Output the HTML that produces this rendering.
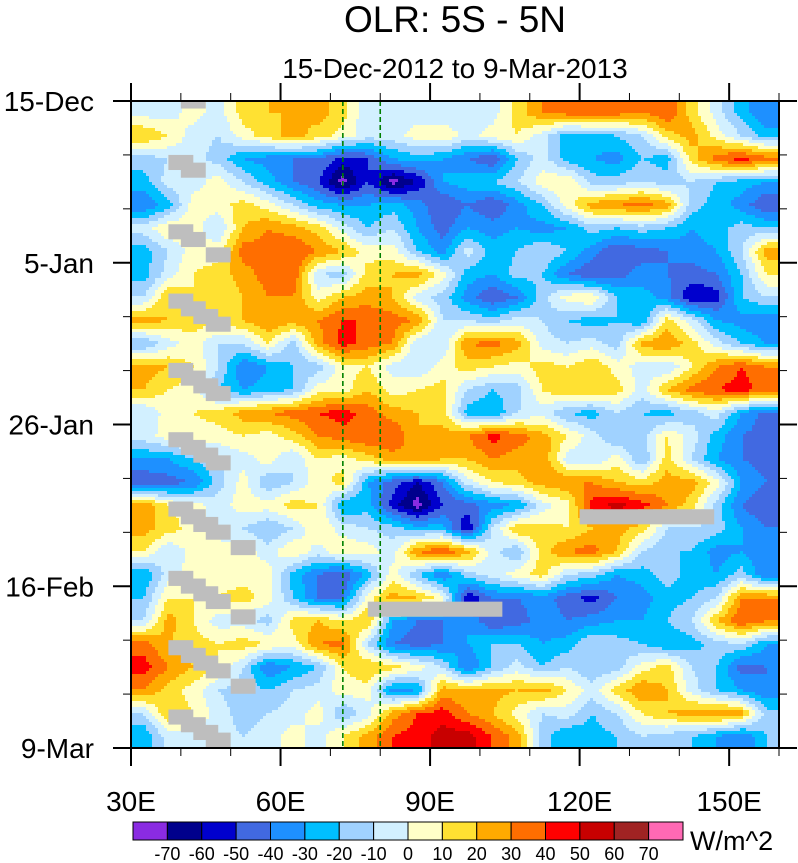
<!DOCTYPE html>
<html><head><meta charset="utf-8"><style>
html,body{margin:0;padding:0;background:#fff;width:798px;height:863px;overflow:hidden}
svg{display:block;font-family:"Liberation Sans",Arial,sans-serif}
</style></head><body>
<svg id="chart" width="798" height="863" viewBox="0 0 798 863">
<text x="455" y="32" text-anchor="middle" font-size="37">OLR: 5S - 5N</text>
<text x="455" y="78" text-anchor="middle" font-size="28">15-Dec-2012 to 9-Mar-2013</text>
<g id="field"></g>
<g id="missing"></g>
<g id="refs"></g>
<g id="axes"></g>
<g id="cbar"></g>
</svg>
<script>
// longitude centers (5° bins) and day centers (3-day bins)
const lonCenters = [32.5,37.5,42.5,47.5,52.5,57.5,62.5,67.5,72.5,77.5,82.5,87.5,92.5,97.5,102.5,107.5,112.5,117.5,122.5,127.5,132.5,137.5,142.5,147.5,152.5,157.5];
const dayCenters = [1.5,4.5,7.5,10.5,13.5,16.5,19.5,22.5,25.5,28.5,31.5,34.5,37.5,40.5,43.5,46.5,49.5,52.5,55.5,58.5,61.5,64.5,67.5,70.5,73.5,76.5,79.5,82.5];
// OLR anomaly rows (W/m^2), one per day bin, columns 30E..160E
const olrRows = [
[-5,-5,5,-5,15,20,20,25,15,-10,-5,-5,-10, -10,-5,15,30,35,40,35,30,40,15,-5,-25,-40],
[20,10,-5,-10,5,15,25,15,5,-5,-5,5,10, -5,5,10,-5,-25,-25,-20,-10,15,25,5,-10,-25],
[-15,-10,-5,-15,-30,-35,-40,-40,-55,-50,-30,-25,-30, -40,-50,-20,-5,-25,-30,-35,-20,-25,15,35,45,35],
[-25,-5,-5,5,-10,-25,-40,-50,-75,-50,-75,-60,-30, -25,-20,-10,5,10,-15,-15,-10,-15,-10,-20,-25,-30],
[-40,-25,5,5,15,5,-10,-25,-30,-30,-25,-35,-50, -40,-50,-35,-20,5,25,30,35,25,-15,-25,-35,-50],
[-5,10,5,-10,20,30,25,15,-5,-20,-10,-30,-45, -30,-35,-30,-35,-30,-15,-20,-15,-20,-30,-25,-15,-20],
[-25,-10,5,5,35,35,40,30,20,5,5,-20,-35, -5,-25,-20,-10,-20,-35,-50,-45,-40,-35,-30,-10,25],
[-25,-5,10,15,25,35,40,-10,-15,15,20,25,5, -25,-30,-15,-20,-40,-50,-45,-35,-40,-45,-40,-20,10],
[-10,20,10,10,20,30,30,5,20,25,20,-5,-15, -35,-50,-40,-15,5,10,-20,-25,-35,-60,-55,-20,-10],
[25,20,15,15,20,30,25,30,40,40,35,30,-10, -10,-15,-5,-10,-20,-25,-20,-30,15,-5,-30,-35,-40],
[-20,-5,5,-10,-10,10,-15,25,45,35,30,-10,-10, 30,35,25,-5,-10,-5,-15,25,30,15,-5,-20,-30],
[25,20,10,-10,-40,-30,-20,-15,5,10,-5,-10,5, 15,10,5,15,10,20,5,-5,-10,10,30,40,30],
[20,10,5,-20,-30,-25,-20,5,5,20,5,10,15, -10,-20,-15,10,20,20,15,-5,20,35,40,45,35],
[-10,5,10,15,25,30,35,40,45,35,25,20,15, -25,-30,-10,-5,-20,-25,-10,-20,-25,-15,-5,-30,-45],
[-5,5,5,5,10,5,15,30,35,40,40,20,25, 30,45,35,25,10,-5,-20,-15,10,-5,-25,-40,-45],
[-30,-30,-20,-10,-5,5,-10,10,5,15,25,30,20, 20,30,25,30,-5,-10,5,-20,15,-10,-30,-40,-45],
[-50,-45,-40,-15,5,-20,-10,5,15,-30,-45,-60,-40, -5,10,15,25,30,30,20,15,25,25,5,-30,-40],
[30,10,5,-5,5,5,15,10,-30,-25,-55,-75,-50, -45,-35,-30,-5,5,45,55,45,30,15,-15,-40,-50],
[25,15,5,-5,-10,-20,-10,10,-5,-10,-15,-25,-25, -60,-10,20,15,10,20,25,15,-10,-10,-15,-30,-40],
[10,-10,5,5,5,-5,10,-5,10,5,-5,30,40, 25,-5,-20,15,30,35,20,-10,-20,-20,-35,-30,-40],
[-30,-5,5,5,5,5,-25,-40,-50,-25,5,-20,-40, -15,-5,5,15,-10,-15,-30,-25,-15,-25,-30,-15,-40],
[-20,10,10,10,15,5,-20,-40,-40,5,25,20,5, -60,-40,-40,-35,-45,-55,-40,-35,-25,-20,-10,30,30],
[-10,25,10,-5,-5,-15,15,20,10,20,-30,-40,-40, -30,-50,-45,-35,-40,-35,-30,-30,-20,-10,20,40,30],
[35,20,15,10,15,10,5,30,35,-10,-40,-45,-40, -30,-20,-20,-30,-25,-10,-15,-20,-30,-25,-15,-10,-30],
[45,30,20,10,-10,-40,-30,-20,10,20,15,5,-10, -40,-20,-5,-20,-10,-20,-15,5,15,-10,-20,-45,-40],
[30,15,5,-10,-15,-20,-10,-5,5,5,-35,-30,25, 20,25,20,25,10,-5,15,30,20,-5,-20,-30,-40],
[-10,20,10,-5,-15,-10,-5,5,-20,-5,25,40,45, 30,20,5,-10,-5,-20,-10,10,20,25,30,25,-15],
[-30,-5,-5,-5,-10,-5,5,-5,10,25,40,45,55, 55,40,25,-15,-30,-25,-20,-10,-15,-20,-30,-40,-20]
];
// missing-data boxes: [lonStart, lonEnd, rowStart, rowEnd] (rows of 1/2 day bins)
const missingBoxes = [
[40,45,0,1],
[37.5,42.5,7,9],[40,45,8,10],
[37.5,42.5,16,18],[40,45,17,19],[45,50,19,21],
[37.5,42.5,25,27],[40,45,26,28],[42.5,47.5,27,29],[45,50,28,30],
[37.5,42.5,34,36],[40,45,35,37],[42.5,47.5,36,38],[45,50,37,39],
[37.5,42.5,43,45],[40,45,44,46],[42.5,47.5,45,47],[45,50,46,48],
[37.5,42.5,52,54],[40,45,53,55],[42.5,47.5,54,56],[45,50,55,57],[50,55,57,59],
[37.5,42.5,61,63],[40,45,62,64],[42.5,47.5,63,65],[45,50,64,66],[50,55,66,68],
[37.5,42.5,70,72],[40,45,71,73],[42.5,47.5,72,74],[45,50,73,75],[50,55,75,77],
[37.5,42.5,79,81],[40,45,80,82],[42.5,47.5,81,83],[45,50,82,84],
[120,147,53,55],[77.5,104.5,65,67]
];
const refLons = [72.5, 80];
const levels = [-70,-60,-50,-40,-30,-20,-10,0,10,20,30,40,50,60,70];
const levelLabels = ["-70","-60","-50","-40","-30","-20","-10","0","10","20","30","40","50","60","70"];
const xTickLons = [30,60,90,120,150];
const xTickLabels = ["30E","60E","90E","120E","150E"];
const yTickDays = [0,21,42,63,84];
const yTickLabels = ["15-Dec","5-Jan","26-Jan","16-Feb","9-Mar"];
const colors = ["#8A2BE2","#00008C","#0000CD","#4169E1","#1E90FF","#00BFFF","#A0D2FF","#D2F0FF","#FFFFC8","#FFE132","#FFAA00","#FF6E00","#FF0000","#C80000","#A02323","#FF69B4"];

const NS="http://www.w3.org/2000/svg";
const X0=131,X1=779,Y0=101,Y1=748,LON0=30,LON1=160,D0=0,D1=84;
const xs=l=>X0+(l-LON0)/(LON1-LON0)*(X1-X0);
const ys=d=>Y0+(d-D0)/(D1-D0)*(Y1-Y0);
function mk(tag,attrs,parent){const e=document.createElementNS(NS,tag);for(const k in attrs)e.setAttribute(k,attrs[k]);parent.appendChild(e);return e;}
function cls(v){let c=0;for(let i=0;i<levels.length;i++){if(v>=levels[i])c=i+1;}return c;}
function interp(arr,v){
  if(v<=arr[0])return 0; if(v>=arr[arr.length-1])return arr.length-1;
  for(let i=0;i<arr.length-1;i++){if(v<=arr[i+1])return i+(v-arr[i])/(arr[i+1]-arr[i]);}
  return arr.length-1;
}
function val(lon,day){
  const fi=interp(lonCenters,lon),fj=interp(dayCenters,day);
  const i0=Math.floor(fi),j0=Math.floor(fj),i1=Math.min(i0+1,lonCenters.length-1),j1=Math.min(j0+1,dayCenters.length-1);
  const a=fi-i0,b=fj-j0;
  return (olrRows[j0][i0]*(1-a)+olrRows[j0][i1]*a)*(1-b)+(olrRows[j1][i0]*(1-a)+olrRows[j1][i1]*a)*b;
}
const field=document.getElementById('field');
const step=3;
for(let py=Y0;py<Y1;py+=step){
  const h=Math.min(step,Y1-py);
  const day=D0+((py+h/2)-Y0)/(Y1-Y0)*(D1-D0);
  let runStart=X0,runC=null;
  for(let px=X0;px<=X1;px+=step){
    let c=null;
    if(px<X1){const lon=LON0+((px+step/2)-X0)/(X1-X0)*(LON1-LON0);c=cls(val(lon,day));}
    if(c!==runC){
      if(runC!==null){
        const r=mk('rect',{x:runStart,y:py,width:Math.min(px,X1)-runStart+0.5,height:h+0.5,fill:colors[runC]},field);
        
        
      }
      runStart=px;runC=c;
    }
  }
}
const miss=document.getElementById('missing');
const rowH=(Y1-Y0)/84;
missingBoxes.forEach(b=>{
  const r=mk('rect',{x:xs(b[0]),y:Y0+b[2]*rowH,width:xs(b[1])-xs(b[0]),height:(b[3]-b[2])*rowH*0.98,fill:'#BEBEBE'},miss);
  
  
});
const refs=document.getElementById('refs');
refLons.forEach(l=>{
  const ln=mk('line',{x1:xs(l),x2:xs(l),y1:Y0,y2:Y1,stroke:'#008000','stroke-width':1.6,'stroke-dasharray':'5,3'},refs);
  
  
});
const ax=document.getElementById('axes');
const fr=mk('rect',{x:X0,y:Y0,width:X1-X0,height:Y1-Y0,fill:'none',stroke:'#000','stroke-width':2},ax);


for(let l=30;l<=160;l+=10){
  const major=xTickLons.includes(l), L=major?18:8;
  mk('line',{x1:xs(l),x2:xs(l),y1:Y1,y2:Y1+L,stroke:'#000','stroke-width':major?2:1},ax);
  mk('line',{x1:xs(l),x2:xs(l),y1:Y0,y2:Y0-L,stroke:'#000','stroke-width':major?2:1},ax);
}
xTickLons.forEach((l,i)=>{
  const t=mk('text',{x:xs(l),y:811,'text-anchor':'middle','font-size':28},ax);
  t.textContent=xTickLabels[i];
  
  
});
for(let d=0;d<=84;d+=7){
  const major=yTickDays.includes(d), L=major?18:8;
  mk('line',{x1:X0,x2:X0-L,y1:ys(d),y2:ys(d),stroke:'#000','stroke-width':major?2:1},ax);
  mk('line',{x1:X1,x2:X1+L,y1:ys(d),y2:ys(d),stroke:'#000','stroke-width':major?2:1},ax);
}
yTickDays.forEach((d,i)=>{
  const t=mk('text',{x:94,y:ys(d)+10,'text-anchor':'end','font-size':28},ax);
  t.textContent=yTickLabels[i];
  
  
});
const cb=document.getElementById('cbar');
const CB0=133,CB1=683,CBY=822,CBH=18,bw=(CB1-CB0)/colors.length;
colors.forEach((c,i)=>{
  const r=mk('rect',{x:CB0+i*bw,y:CBY,width:bw,height:CBH,fill:c,stroke:'#000','stroke-width':1},cb);
  
  
});
levelLabels.forEach((s,i)=>{
  const t=mk('text',{x:CB0+(i+1)*bw,y:860,'text-anchor':'middle','font-size':18},cb);
  t.textContent=s;
  
  
});
const u=mk('text',{x:690,y:850,'font-size':27},cb);
u.textContent='W/m^2';


</script>
</body></html>
